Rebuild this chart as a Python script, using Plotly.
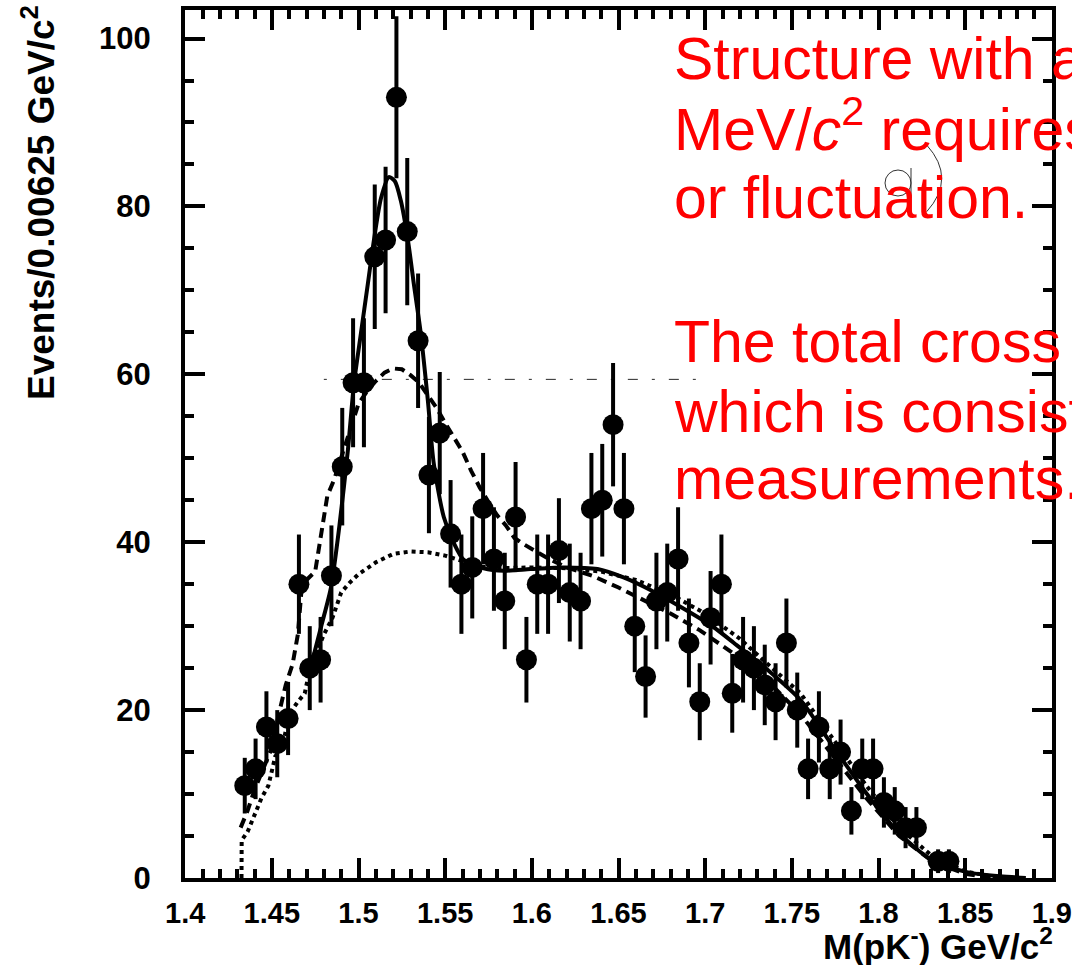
import numpy as np
import plotly.graph_objects as go

# ---------------- data ----------------
mass = [1.434375, 1.440625, 1.446875, 1.453125, 1.459375, 1.465625, 1.471875, 1.478125,
        1.484375, 1.490625, 1.496875, 1.503125, 1.509375, 1.515625, 1.521875, 1.528125,
        1.534375, 1.540625, 1.546875, 1.553125, 1.559375, 1.565625, 1.571875, 1.578125,
        1.584375, 1.590625, 1.596875, 1.603125, 1.609375, 1.615625, 1.621875, 1.628125,
        1.634375, 1.640625, 1.646875, 1.653125, 1.659375, 1.665625, 1.671875, 1.678125,
        1.684375, 1.690625, 1.696875, 1.703125, 1.709375, 1.715625, 1.721875, 1.728125,
        1.734375, 1.740625, 1.746875, 1.753125, 1.759375, 1.765625, 1.771875, 1.778125,
        1.784375, 1.790625, 1.796875, 1.803125, 1.809375, 1.815625, 1.821875, 1.834375,
        1.840625]
events = [11, 13, 18, 16, 19, 35, 25, 26,
          36, 49, 59, 59, 74, 76, 93, 77,
          64, 48, 53, 41, 35, 37, 44, 38,
          33, 43, 26, 35, 35, 39, 34, 33,
          44, 45, 54, 44, 30, 24, 33, 34,
          38, 28, 21, 31, 35, 22, 26, 25,
          23, 21, 28, 20, 13, 18, 13, 15,
          8, 13, 13, 9, 8, 6, 6, 2,
          2]

fit_x = [1.4735, 1.4785, 1.4841, 1.489, 1.4939, 1.4974, 1.5014, 1.5054, 1.5089, 1.513,
         1.5175, 1.521, 1.5244, 1.5285, 1.5319, 1.5359, 1.54, 1.5434, 1.5492, 1.555,
         1.5607, 1.5722, 1.5838, 1.5993, 1.6183, 1.6379, 1.6529, 1.6684, 1.6857, 1.7047,
         1.7166, 1.736, 1.755, 1.774, 1.793, 1.812, 1.831, 1.851, 1.870, 1.885]
fit_y = [26.0, 30.0, 34.6, 42.0, 51.0, 58.9, 64.9, 70.8, 76.0, 81.0,
         83.5, 83.0, 80.7, 76.0, 70.8, 64.9, 56.9, 49.4, 43.0, 39.9,
         37.9, 36.9, 36.6, 36.8, 37.0, 36.8, 35.8, 34.3, 32.3, 29.9,
         28.0, 24.8, 21.2, 15.6, 10.1, 5.3, 2.1, 0.7, 0.2, 0.0]

dash_x = [1.432, 1.436, 1.44, 1.445, 1.45, 1.454, 1.458, 1.462, 1.465, 1.467,
          1.47, 1.475, 1.479, 1.482, 1.486, 1.49, 1.495, 1.5, 1.505, 1.51,
          1.515, 1.52, 1.525, 1.53, 1.535, 1.54, 1.545, 1.55, 1.555, 1.56,
          1.565, 1.57, 1.575, 1.58, 1.585, 1.59, 1.595, 1.6, 1.61, 1.62,
          1.635, 1.65, 1.665, 1.68, 1.697, 1.716, 1.736, 1.755, 1.774, 1.793,
          1.812, 1.831, 1.85, 1.865]
dash_y = [6.0, 8.0, 10.5, 13.0, 15.5, 19.5, 23.0, 25.5, 29.0, 34.0,
          35.5, 36.5, 42.0, 45.5, 47.5, 50.0, 53.5, 56.5, 58.0, 59.2,
          60.2, 60.7, 60.6, 59.9, 59.0, 57.5, 56.0, 54.2, 52.5, 50.8,
          48.5, 46.5, 44.8, 43.2, 42.0, 40.5, 39.8, 39.2, 38.0, 37.0,
          36.0, 34.6, 33.0, 31.5, 29.5, 26.8, 23.5, 19.5, 14.5, 9.5,
          5.0, 2.0, 0.5, 0.0]

dot_x = [1.4325, 1.4326, 1.436, 1.44, 1.444, 1.448, 1.452, 1.456, 1.46, 1.465,
         1.469, 1.472, 1.476, 1.48, 1.485, 1.49, 1.495, 1.5, 1.51, 1.52,
         1.53, 1.54, 1.55, 1.56, 1.57, 1.58, 1.6, 1.62, 1.64, 1.66,
         1.68, 1.7, 1.72, 1.736, 1.755, 1.774, 1.793, 1.812, 1.831, 1.85,
         1.87]
dot_y = [0.0, 4.5, 5.5, 7.5, 9.5, 11.0, 14.5, 15.5, 19.5, 21.0,
         22.0, 25.0, 27.0, 29.0, 31.0, 34.0, 35.2, 36.2, 37.6, 38.6,
         38.9, 38.8, 38.4, 37.7, 37.1, 36.9, 37.0, 36.9, 36.5, 35.5,
         33.8, 31.5, 28.5, 25.5, 22.0, 16.5, 11.0, 6.0, 2.6, 0.8,
         0.0]

guide_x = [1.48, 1.697]
guide_y = [59.4, 59.4]

x_tick_vals = [1.4, 1.45, 1.5, 1.55, 1.6, 1.65, 1.7, 1.75, 1.8, 1.85, 1.9]
x_tick_text = ["1.4", "1.45", "1.5", "1.55", "1.6", "1.65", "1.7", "1.75", "1.8", "1.85", "1.9"]
y_tick_vals = [0, 20, 40, 60, 80, 100]
y_tick_text = ["0", "20", "40", "60", "80", "100"]

note_lines = ["Structure with a", "MeV/<i>c</i><sup>2</sup> requires", "or fluctuation.",
              "The total cross", "which is consist", "measurements."]

# ---------------- figure ----------------
W, H = 1072, 965
ML, MR, MT, MB = 185, 20, 10, 87
PW, PH = W - ML - MR, H - MT - MB

def px(xp):
    return (xp - ML) / PW

def py(yp):
    return (H - MB - yp) / PH

fig = go.Figure()

fig.add_trace(go.Scatter(x=guide_x, y=guide_y, mode="lines",
                         line=dict(color="rgba(0,0,0,0.85)", width=1, dash="3px,14px,10px,14px"),
                         hoverinfo="skip", showlegend=False))
fig.add_trace(go.Scatter(x=dot_x, y=dot_y, mode="lines",
                         line=dict(color="black", width=4, dash="4px,4px"),
                         showlegend=False))
fig.add_trace(go.Scatter(x=dash_x, y=dash_y, mode="lines",
                         line=dict(color="black", width=4, dash="10px,6px"),
                         showlegend=False))
fig.add_trace(go.Scatter(x=fit_x, y=fit_y, mode="lines", line_shape="spline",
                         line=dict(color="black", width=4, smoothing=0.7),
                         showlegend=False))
fig.add_trace(go.Scatter(x=mass, y=events, mode="markers",
                         marker=dict(color="black", size=21, symbol="circle"),
                         error_y=dict(type="data", array=np.sqrt(np.array(events, dtype=float)),
                                      thickness=4, width=0, color="black"),
                         showlegend=False))

x_tick_font = dict(family="Liberation Sans, Arial, sans-serif", size=29, color="black", weight="bold")
y_tick_font = dict(family="Liberation Sans, Arial, sans-serif", size=31, color="black", weight="bold")

fig.update_xaxes(range=[1.3999, 1.9001], tickmode="array", tickvals=x_tick_vals, ticktext=x_tick_text,
                 ticks="inside", ticklen=20, tickwidth=4, tickcolor="black",
                 showline=True, linewidth=4, linecolor="black", mirror="allticks",
                 showgrid=False, zeroline=False, tickfont=x_tick_font, ticklabelstandoff=6,
                 ticklabeloverflow="allow", automargin=False,
                 minor=dict(tickmode="array",
                            tickvals=list(np.round(np.arange(1.40, 1.9001, 0.01), 2)),
                            ticks="inside", ticklen=9, tickwidth=4, tickcolor="black",
                            showgrid=False))
fig.update_yaxes(range=[0, 103.4], tickmode="array", tickvals=y_tick_vals, ticktext=y_tick_text,
                 ticks="inside", ticklen=20, tickwidth=4, tickcolor="black",
                 showline=True, linewidth=4, linecolor="black", mirror="allticks",
                 showgrid=False, zeroline=False, tickfont=y_tick_font, ticklabelstandoff=24,
                 ticklabeloverflow="allow", automargin=False,
                 minor=dict(tickmode="array", tickvals=list(range(0, 104, 5)),
                            ticks="inside", ticklen=9, tickwidth=4, tickcolor="black",
                            showgrid=False))

annotations = []
# axis titles
annotations.append(dict(text="Events/0.00625 GeV/c<sup>2</sup>", xref="paper", yref="paper",
                        x=px(38), y=py(203), xanchor="center", yanchor="middle",
                        textangle=-90, showarrow=False,
                        font=dict(family="Liberation Sans, Arial, sans-serif", size=37,
                                  color="black", weight="bold")))
annotations.append(dict(text="M(pK<sup>-</sup>) GeV/c<sup>2</sup>", xref="paper", yref="paper",
                        x=px(1055), y=py(944), xanchor="right", yanchor="middle",
                        showarrow=False,
                        font=dict(family="Liberation Sans, Arial, sans-serif", size=35,
                                  color="black", weight="bold")))
# red note text, one annotation per line
note_centres = [59, 125, 198, 342, 412, 479]
for txt, yc in zip(note_lines, note_centres):
    annotations.append(dict(text=txt, xref="paper", yref="paper",
                            x=px(672), y=py(yc), xanchor="left", yanchor="middle",
                            showarrow=False,
                            font=dict(family="Liberation Sans, Arial, sans-serif", size=59,
                                      color="#ff0000")))

shapes = [
    dict(type="circle", xref="paper", yref="paper", x0=px(885), x1=px(911), y0=py(196), y1=py(170),
         line=dict(color="#333333", width=1), layer="above"),
    dict(type="line", xref="paper", yref="paper", x0=px(911), x1=px(911), y0=py(168), y1=py(198),
         line=dict(color="#333333", width=1), layer="above"),
    dict(type="path", xref="paper", yref="paper",
         path=f"M {px(926.7)},{py(145)} Q {px(956.7)},{py(178.3)} {px(926.7)},{py(211.7)}",
         line=dict(color="#333333", width=1), layer="above"),
]

fig.update_layout(width=W, height=H, margin=dict(l=ML, r=MR, t=MT, b=MB, autoexpand=False),
                  paper_bgcolor="white", plot_bgcolor="white",
                  annotations=annotations, shapes=shapes, showlegend=False)

fig.write_html("out.html")
